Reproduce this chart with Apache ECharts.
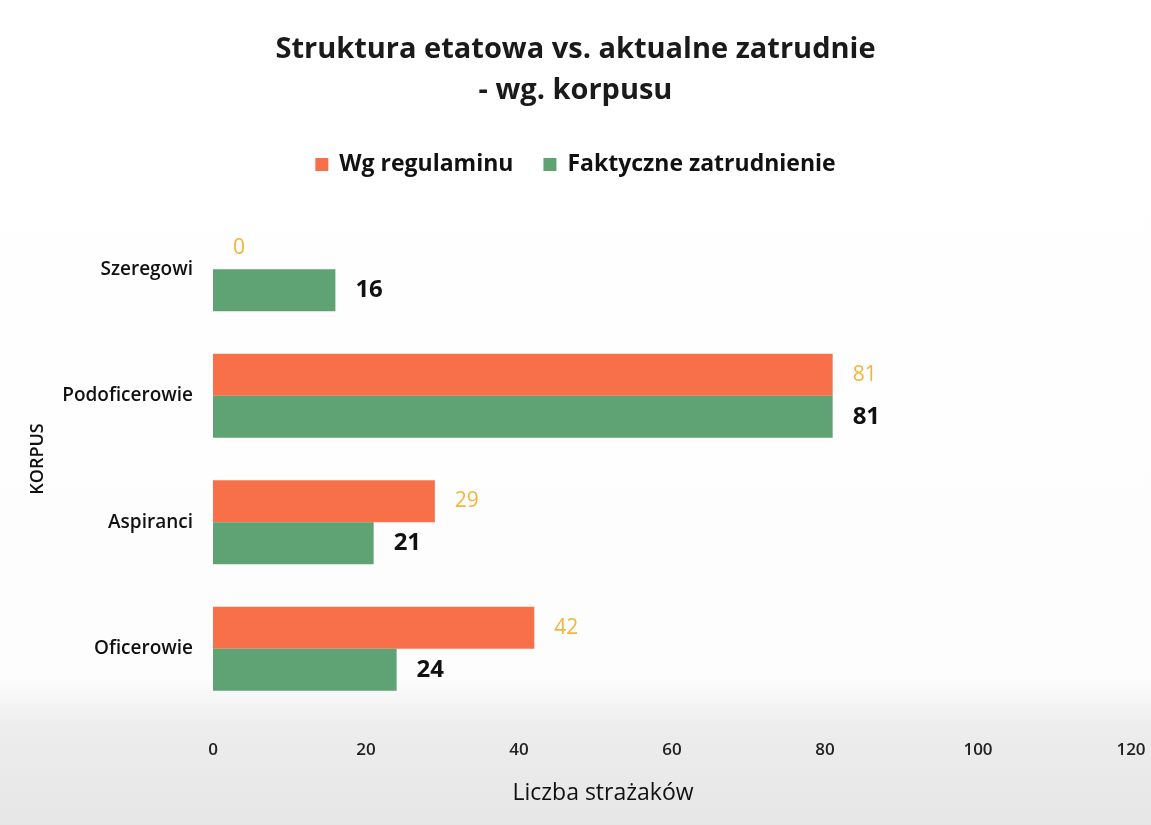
<!DOCTYPE html>
<html><head><meta charset="utf-8">
<script src="https://cdn.jsdelivr.net/npm/echarts@6/dist/echarts.min.js"></script>
<style>html,body{margin:0;padding:0;background:#fff}#c{width:1151px;height:825px}</style>
</head><body><div id="c"></div>
<script>
const categories = ['Oficerowie', 'Aspiranci', 'Podoficerowie', 'Szeregowi'];
const wgRegulaminu = [42, 29, 81, 0];
const faktyczne = [24, 21, 81, 16];
const xTicks = [0, 20, 40, 60, 80, 100, 120];
const seriesNames = ['Wg regulaminu', 'Faktyczne zatrudnienie'];

const FONT = '"Open Sans", "Noto Sans", sans-serif';
const chart = echarts.init(document.getElementById('c'));
chart.setOption({
  backgroundColor: {type:'linear', x:0, y:0, x2:0, y2:1, colorStops:[
    {offset:0, color:'#ffffff'}, {offset:0.82, color:'#fdfdfd'}, {offset:0.88, color:'#ededed'}, {offset:1, color:'#e6e6e6'}]},
  title: {
    text: 'Struktura etatowa vs. aktualne zatrudnie\n- wg. korpusu',
    left: 'center', top: 24,
    textStyle: {fontFamily: FONT, fontWeight: 'bold', fontSize: 29, color: '#1a1a1a', lineHeight: 41}
  },
  legend: {
    data: seriesNames, top: 148, left: 'center', itemWidth: 13, itemHeight: 13, itemGap: 30,
    icon: 'rect',
    textStyle: {fontFamily: FONT, fontWeight: 'bold', fontSize: 23, color: '#111', padding: [0, 0, 0, 6]}
  },
  grid: {left: 213, right: 20, top: 206, bottom: 113, containLabel: false},
  xAxis: {
    type: 'value', min: 0, max: 120, interval: 20,
    axisLine: {show: false}, axisTick: {show: false}, splitLine: {show: false},
    axisLabel: {fontFamily: FONT, fontSize: 17, fontWeight: 600, color: '#222', margin: 30,
      formatter: v => xTicks.includes(v) ? String(v) : ''},
    name: 'Liczba strażaków', nameLocation: 'middle', nameGap: 70,
    nameTextStyle: {fontFamily: FONT, fontSize: 23, color: '#111', padding: [0, 138, 0, 0]}
  },
  yAxis: {
    type: 'category', data: categories,
    axisLine: {show: false}, axisTick: {show: false},
    axisLabel: {fontFamily: FONT, fontSize: 19, fontWeight: 600, color: '#111', margin: 20},
    name: 'KORPUS', nameLocation: 'middle', nameGap: 166, nameRotate: 90,
    nameTextStyle: {fontFamily: FONT, fontSize: 18, fontWeight: 600, color: '#111'}
  },
  series: [
    {name: seriesNames[0], type: 'bar', data: wgRegulaminu, barWidth: 42, barGap: '0%',
      itemStyle: {color: '#f7704a'},
      label: {show: true, position: 'right', distance: 20, fontFamily: FONT, fontSize: 21, color: '#f2b53a'}},
    {name: seriesNames[1], type: 'bar', data: faktyczne, barWidth: 42,
      itemStyle: {color: '#5fa274'},
      label: {show: true, position: 'right', distance: 20, fontFamily: FONT, fontSize: 24, fontWeight: 'bold', color: '#111'}}
  ]
});
</script></body></html>
